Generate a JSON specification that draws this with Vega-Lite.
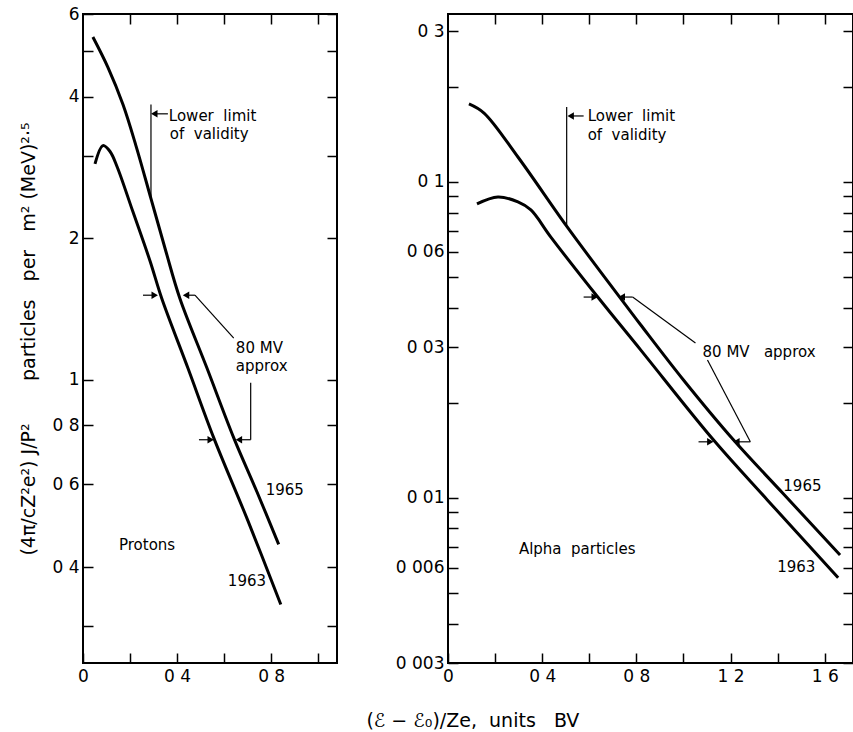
{
  "$schema": "https://vega.github.io/schema/vega-lite/v6.json",
  "background": "white",
  "padding": {"left": 18, "top": 4, "right": 0, "bottom": 0},
  "config": {
    "font": "DejaVu Sans",
    "view": {"stroke": "black", "strokeWidth": 2},
    "axis": {
      "domain": false, "grid": false, "tickColor": "black", "tickWidth": 1.5,
      "labelColor": "black", "labelFont": "DejaVu Sans", "labelFontSize": 17,
      "titleFont": "DejaVu Sans", "titleColor": "black", "labelFlush": false
    },
    "text": {"color": "black"}
  },
  "title": {
    "text": "(ℰ\u00a0−\u00a0ℰ₀)/Ze,\u00a0\u00a0units\u00a0\u00a0\u00a0BV",
    "orient": "bottom", "anchor": "middle", "fontSize": 19, "fontWeight": "normal",
    "font": "DejaVu Sans", "color": "black", "offset": 27, "dx": 36
  },
  "datasets": {
    "p_curves": [
      {"x": 0.042, "y": 5.36, "year": "1965"},
      {"x": 0.106, "y": 4.62, "year": "1965"},
      {"x": 0.170, "y": 3.85, "year": "1965"},
      {"x": 0.225, "y": 3.15, "year": "1965"},
      {"x": 0.289, "y": 2.43, "year": "1965"},
      {"x": 0.352, "y": 1.88, "year": "1965"},
      {"x": 0.412, "y": 1.49, "year": "1965"},
      {"x": 0.527, "y": 1.06, "year": "1965"},
      {"x": 0.641, "y": 0.753, "year": "1965"},
      {"x": 0.739, "y": 0.579, "year": "1965"},
      {"x": 0.832, "y": 0.447, "year": "1965"},
      {"x": 0.051, "y": 2.88, "year": "1963"},
      {"x": 0.085, "y": 3.15, "year": "1963"},
      {"x": 0.115, "y": 3.06, "year": "1963"},
      {"x": 0.145, "y": 2.84, "year": "1963"},
      {"x": 0.212, "y": 2.28, "year": "1963"},
      {"x": 0.285, "y": 1.79, "year": "1963"},
      {"x": 0.335, "y": 1.49, "year": "1963"},
      {"x": 0.446, "y": 1.06, "year": "1963"},
      {"x": 0.556, "y": 0.753, "year": "1963"},
      {"x": 0.701, "y": 0.502, "year": "1963"},
      {"x": 0.841, "y": 0.333, "year": "1963"}
    ],
    "p_segs": [
      {"x": 0.289, "y": 3.85, "x2": 0.289, "y2": 2.43},
      {"x": 0.361, "y": 3.68, "x2": 0.303, "y2": 3.68},
      {"x": 0.255, "y": 1.514, "x2": 0.305, "y2": 1.514},
      {"x": 0.476, "y": 1.514, "x2": 0.438, "y2": 1.514},
      {"x": 0.476, "y": 1.514, "x2": 0.641, "y2": 1.227},
      {"x": 0.493, "y": 0.746, "x2": 0.543, "y2": 0.746},
      {"x": 0.713, "y": 0.746, "x2": 0.663, "y2": 0.746},
      {"x": 0.713, "y": 0.746, "x2": 0.713, "y2": 0.986}
    ],
    "p_heads": [
      {"x": 0.303, "y": 3.68, "dir": "left"},
      {"x": 0.305, "y": 1.514, "dir": "right"},
      {"x": 0.438, "y": 1.514, "dir": "left"},
      {"x": 0.543, "y": 0.746, "dir": "right"},
      {"x": 0.663, "y": 0.746, "dir": "left"}
    ],
    "p_text": [
      {"x": 0.365, "y": 3.65, "label": "Lower\u00a0\u00a0limit"},
      {"x": 0.369, "y": 3.34, "label": "of\u00a0\u00a0validity"},
      {"x": 0.650, "y": 1.169, "label": "80\u00a0MV"},
      {"x": 0.650, "y": 1.071, "label": "approx"},
      {"x": 0.777, "y": 0.582, "label": "1965"},
      {"x": 0.616, "y": 0.373, "label": "1963"},
      {"x": 0.153, "y": 0.445, "label": "Protons"}
    ],
    "a_curves": [
      {"x": 0.089, "y": 0.1766, "year": "1965"},
      {"x": 0.153, "y": 0.1652, "year": "1965"},
      {"x": 0.297, "y": 0.1199, "year": "1965"},
      {"x": 0.500, "y": 0.0731, "year": "1965"},
      {"x": 0.648, "y": 0.0519, "year": "1965"},
      {"x": 0.818, "y": 0.0353, "year": "1965"},
      {"x": 1.000, "y": 0.0236, "year": "1965"},
      {"x": 1.212, "y": 0.01526, "year": "1965"},
      {"x": 1.424, "y": 0.0103, "year": "1965"},
      {"x": 1.665, "y": 0.00659, "year": "1965"},
      {"x": 0.123, "y": 0.0852, "year": "1963"},
      {"x": 0.212, "y": 0.0896, "year": "1963"},
      {"x": 0.297, "y": 0.0864, "year": "1963"},
      {"x": 0.352, "y": 0.0815, "year": "1963"},
      {"x": 0.436, "y": 0.0670, "year": "1963"},
      {"x": 0.636, "y": 0.0432, "year": "1963"},
      {"x": 0.818, "y": 0.0294, "year": "1963"},
      {"x": 1.127, "y": 0.01526, "year": "1963"},
      {"x": 1.356, "y": 0.00985, "year": "1963"},
      {"x": 1.657, "y": 0.00558, "year": "1963"}
    ],
    "a_segs": [
      {"x": 0.504, "y": 0.1727, "x2": 0.504, "y2": 0.0731},
      {"x": 0.576, "y": 0.1617, "x2": 0.521, "y2": 0.1617},
      {"x": 0.576, "y": 0.0432, "x2": 0.623, "y2": 0.0432},
      {"x": 0.784, "y": 0.0432, "x2": 0.738, "y2": 0.0432},
      {"x": 0.784, "y": 0.0432, "x2": 1.051, "y2": 0.0309},
      {"x": 1.064, "y": 0.01504, "x2": 1.114, "y2": 0.01504},
      {"x": 1.284, "y": 0.01504, "x2": 1.225, "y2": 0.01504},
      {"x": 1.284, "y": 0.01504, "x2": 1.102, "y2": 0.0273}
    ],
    "a_heads": [
      {"x": 0.521, "y": 0.1617, "dir": "left"},
      {"x": 0.623, "y": 0.0432, "dir": "right"},
      {"x": 0.738, "y": 0.0432, "dir": "left"},
      {"x": 1.114, "y": 0.01504, "dir": "right"},
      {"x": 1.225, "y": 0.01504, "dir": "left"}
    ],
    "a_text": [
      {"x": 0.593, "y": 0.1617, "label": "Lower\u00a0\u00a0limit"},
      {"x": 0.593, "y": 0.1409, "label": "of\u00a0\u00a0validity"},
      {"x": 1.081, "y": 0.029, "label": "80\u00a0MV\u00a0\u00a0\u00a0approx"},
      {"x": 1.424, "y": 0.01091, "label": "1965"},
      {"x": 1.398, "y": 0.00605, "label": "1963"},
      {"x": 0.301, "y": 0.0069, "label": "Alpha\u00a0\u00a0particles"}
    ]
  },
  "spacing": 55,
  "hconcat": [
    {
      "width": 254, "height": 649,
      "layer": [
        {
          "data": {"name": "p_curves"},
          "mark": {"type": "line", "color": "black", "strokeWidth": 3, "interpolate": "catmull-rom"},
          "encoding": {
            "x": {"field": "x", "type": "quantitative",
              "scale": {"domain": [0, 1.08], "nice": false, "zero": false},
              "axis": {"orient": "bottom", "values": [0, 0.2, 0.4, 0.6, 0.8, 1.0], "format": "~g",
                "labelExpr": "indexof([0, 0.4, 0.8], datum.value) >= 0 ? replace(datum.label, '.', ' ') : ''",
                "tickSize": -10, "labelPadding": 15, "title": null}},
            "y": {"field": "y", "type": "quantitative",
              "scale": {"type": "log", "domain": [0.25, 6], "nice": false},
              "axis": {"orient": "left", "values": [0.3, 0.4, 0.6, 0.8, 1, 2, 3, 4, 5, 6], "format": "~g",
                "labelExpr": "indexof([0.4, 0.6, 0.8, 1, 2, 4, 6], datum.value) >= 0 ? replace(datum.label, '.', ' ') : ''",
                "tickSize": -10, "labelPadding": 14,
                "title": "(4π/cZ²e²)\u00a0J/P²\u00a0\u00a0\u00a0\u00a0\u00a0\u00a0\u00a0particles\u00a0\u00a0\u00a0per\u00a0\u00a0\u00a0m²\u00a0(MeV)²·⁵",
                "titleFontSize": 19, "titleFontWeight": "normal", "titlePadding": 13}},
            "detail": {"field": "year"}
          }
        },
        {
          "data": {"name": "p_segs"},
          "mark": {"type": "rule", "color": "black", "strokeWidth": 1.2},
          "encoding": {
            "x": {"field": "x", "type": "quantitative", "axis": null},
            "y": {"field": "y", "type": "quantitative", "axis": null},
            "x2": {"field": "x2"}, "y2": {"field": "y2"}
          }
        },
        {
          "data": {"name": "p_heads"},
          "mark": {"type": "point", "filled": true, "color": "black", "size": 55, "opacity": 1},
          "encoding": {
            "x": {"field": "x", "type": "quantitative", "axis": null},
            "y": {"field": "y", "type": "quantitative", "axis": null},
            "shape": {"field": "dir", "type": "nominal",
              "scale": {"domain": ["right", "left"], "range": ["triangle-right", "triangle-left"]}, "legend": null}
          }
        },
        {
          "data": {"name": "p_text"},
          "mark": {"type": "text", "align": "left", "baseline": "middle", "fontSize": 15, "font": "DejaVu Sans"},
          "encoding": {
            "x": {"field": "x", "type": "quantitative",
              "axis": {"orient": "top", "values": [0.2, 0.4, 0.6, 0.8, 1.0], "labels": false, "tickSize": -10, "title": null}},
            "y": {"field": "y", "type": "quantitative",
              "axis": {"orient": "right", "values": [0.3, 0.4, 0.6, 0.8, 1, 2, 3, 4, 5, 6], "labels": false, "tickSize": -10, "title": null}},
            "text": {"field": "label"}
          }
        }
      ],
      "resolve": {"axis": {"x": "independent", "y": "independent"}}
    },
    {
      "width": 405, "height": 649,
      "layer": [
        {
          "data": {"name": "a_curves"},
          "mark": {"type": "line", "color": "black", "strokeWidth": 3, "interpolate": "catmull-rom"},
          "encoding": {
            "x": {"field": "x", "type": "quantitative",
              "scale": {"domain": [0, 1.72], "nice": false, "zero": false},
              "axis": {"orient": "bottom", "values": [0, 0.2, 0.4, 0.6, 0.8, 1.0, 1.2, 1.4, 1.6], "format": "~g",
                "labelExpr": "indexof([0, 0.4, 0.8, 1.2, 1.6], datum.value) >= 0 ? replace(datum.label, '.', ' ') : ''",
                "tickSize": -10, "labelPadding": 15, "title": null}},
            "y": {"field": "y", "type": "quantitative",
              "scale": {"type": "log", "domain": [0.003, 0.34], "nice": false},
              "axis": {"orient": "left", "values": [0.003, 0.004, 0.005, 0.006, 0.007, 0.008, 0.009, 0.01, 0.02, 0.03, 0.04, 0.05, 0.06, 0.07, 0.08, 0.09, 0.1, 0.2, 0.3], "format": "~g",
                "labelExpr": "indexof([0.003, 0.006, 0.01, 0.03, 0.06, 0.1, 0.3], datum.value) >= 0 ? replace(datum.label, '.', ' ') : ''",
                "tickSize": -10, "labelPadding": 14, "title": null}},
            "detail": {"field": "year"}
          }
        },
        {
          "data": {"name": "a_segs"},
          "mark": {"type": "rule", "color": "black", "strokeWidth": 1.2},
          "encoding": {
            "x": {"field": "x", "type": "quantitative", "axis": null},
            "y": {"field": "y", "type": "quantitative", "axis": null},
            "x2": {"field": "x2"}, "y2": {"field": "y2"}
          }
        },
        {
          "data": {"name": "a_heads"},
          "mark": {"type": "point", "filled": true, "color": "black", "size": 55, "opacity": 1},
          "encoding": {
            "x": {"field": "x", "type": "quantitative", "axis": null},
            "y": {"field": "y", "type": "quantitative", "axis": null},
            "shape": {"field": "dir", "type": "nominal",
              "scale": {"domain": ["right", "left"], "range": ["triangle-right", "triangle-left"]}, "legend": null}
          }
        },
        {
          "data": {"name": "a_text"},
          "mark": {"type": "text", "align": "left", "baseline": "middle", "fontSize": 15, "font": "DejaVu Sans"},
          "encoding": {
            "x": {"field": "x", "type": "quantitative",
              "axis": {"orient": "top", "values": [0.2, 0.4, 0.6, 0.8, 1.0, 1.2, 1.4, 1.6], "labels": false, "tickSize": -10, "title": null}},
            "y": {"field": "y", "type": "quantitative",
              "axis": {"orient": "right", "values": [0.003, 0.004, 0.005, 0.006, 0.007, 0.008, 0.009, 0.01, 0.02, 0.03, 0.04, 0.05, 0.06, 0.07, 0.08, 0.09, 0.1, 0.2, 0.3], "labels": false, "tickSize": -10, "title": null}},
            "text": {"field": "label"}
          }
        }
      ],
      "resolve": {"axis": {"x": "independent", "y": "independent"}}
    }
  ]
}
